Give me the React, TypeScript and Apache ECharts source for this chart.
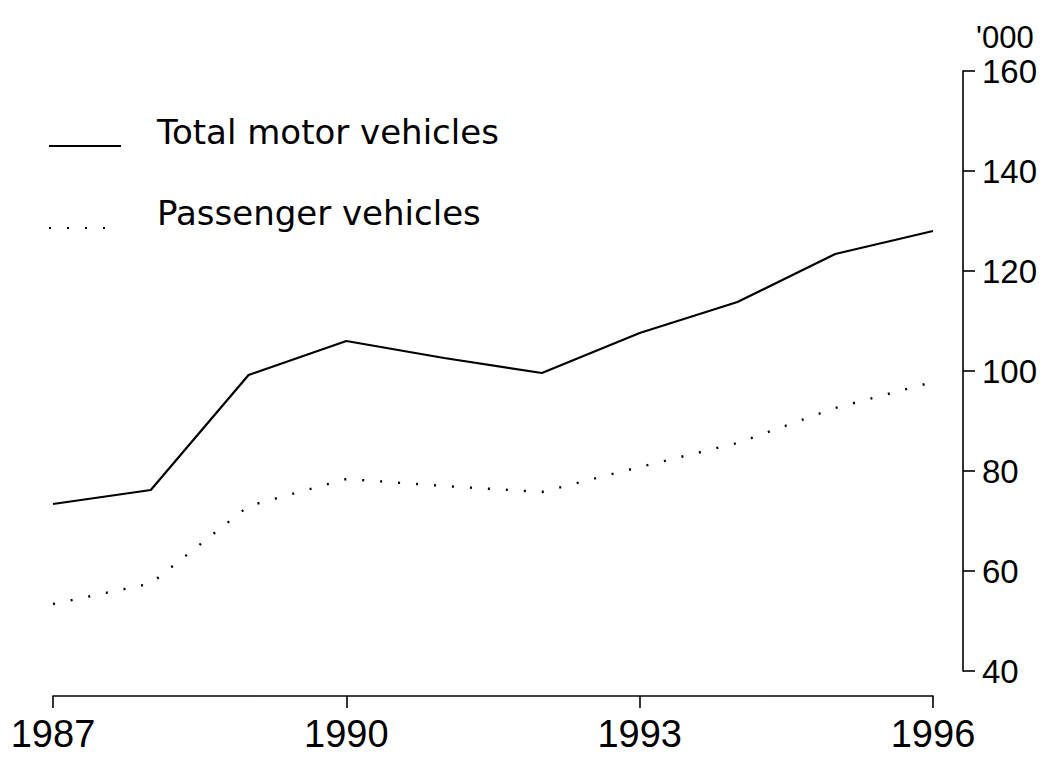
import React, { useEffect, useRef } from "react";
import * as echarts from "echarts";

const years = ["1987", "1988", "1989", "1990", "1991", "1992", "1993", "1994", "1995", "1996"];
const totalMotorVehicles = [73.4, 76.2, 99.2, 106.0, 102.6, 99.6, 107.6, 113.8, 123.4, 128.0];
const passengerVehicles = [53.4, 57.5, 73.0, 78.4, 77.0, 75.8, 80.8, 85.6, 92.6, 97.8];
const seriesNames = ["Total motor vehicles", "Passenger vehicles"];
const yUnit = "'000";

export default function App() {
  const ref = useRef<HTMLDivElement>(null);
  useEffect(() => {
    document.body.style.margin = "0";
    const chart = echarts.init(ref.current as HTMLDivElement, null, { renderer: "svg" });
    const axisFont = "'Liberation Sans', Arial, Helvetica, sans-serif";
    chart.setOption({
      animation: false,
      backgroundColor: "#ffffff",
      grid: { left: 53, right: 126, top: 71, bottom: 87 },
      legend: [
        {
          // key lines only
          orient: "vertical",
          left: 43,
          top: 136,
          itemWidth: 72,
          itemHeight: 10,
          itemGap: 73,
          selectedMode: false,
          data: seriesNames,
          formatter: () => "",
          itemStyle: { opacity: 0 },
          textStyle: { fontSize: 1 },
        },
        {
          // key texts only
          orient: "vertical",
          left: 147,
          top: 110,
          itemWidth: 0,
          itemHeight: 0,
          itemGap: 47,
          icon: "none",
          selectedMode: false,
          data: seriesNames,
          itemStyle: { opacity: 0 },
          lineStyle: { opacity: 0 },
          textStyle: {
            color: "#000",
            fontSize: 34,
            fontFamily: "'DejaVu Sans', sans-serif",
          },
        },
      ],
      xAxis: {
        type: "category",
        data: years,
        boundaryGap: false,
        position: "bottom",
        offset: 25,
        axisLine: { show: true, lineStyle: { color: "#000", width: 1.6 } },
        axisTick: { show: true, interval: 2, length: 12, lineStyle: { color: "#000", width: 1.6 } },
        axisLabel: { interval: 2, color: "#000", fontSize: 38, fontFamily: axisFont, margin: 19 },
        splitLine: { show: false },
      },
      yAxis: {
        type: "value",
        position: "right",
        offset: 30,
        min: 40,
        max: 160,
        interval: 20,
        name: yUnit,
        nameLocation: "end",
        nameGap: 18,
        nameTextStyle: { color: "#000", fontSize: 31, fontFamily: axisFont, align: "left", padding: [0, 0, 0, 13] },
        axisLine: { show: true, lineStyle: { color: "#000", width: 1.6 } },
        axisTick: { show: true, length: 12, lineStyle: { color: "#000", width: 1.6 } },
        axisLabel: { color: "#000", fontSize: 33, fontFamily: axisFont, margin: 19 },
        splitLine: { show: false },
      },
      series: [
        {
          name: seriesNames[0],
          type: "line",
          data: totalMotorVehicles,
          symbol: "none",
          lineStyle: { color: "#000", width: 2.2 },
          itemStyle: { color: "#000" },
        },
        {
          name: seriesNames[1],
          type: "line",
          data: passengerVehicles,
          symbol: "none",
          lineStyle: { color: "#000", width: 2.4, type: [2, 16] },
          itemStyle: { color: "#000" },
        },
      ],
    });
    return () => chart.dispose();
  }, []);
  return <div ref={ref} style={{ width: 1059, height: 758 }} />;
}
